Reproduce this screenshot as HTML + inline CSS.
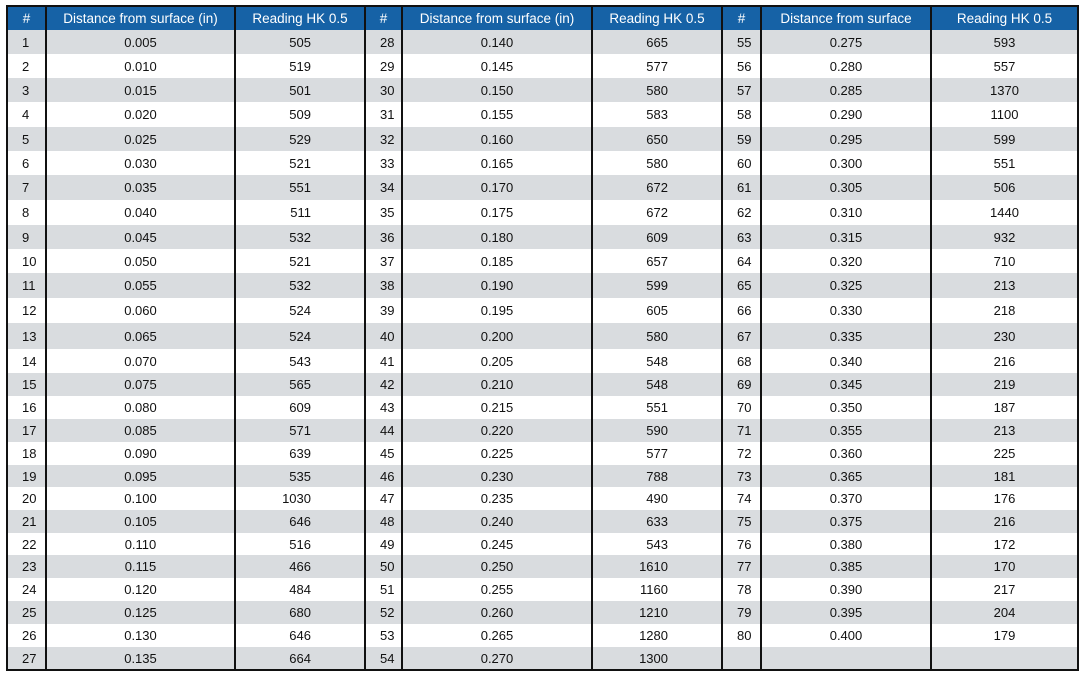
<!DOCTYPE html>
<html><head><meta charset="utf-8"><style>
body{margin:0;background:#fff;width:1084px;height:673px;overflow:hidden;font-family:"Liberation Sans",sans-serif;}
table{position:absolute;left:6px;top:5px;border-collapse:collapse;table-layout:fixed;width:1071px;border:2px solid #111;}
td,th{border-left:2px solid #111;border-right:2px solid #111;padding:0;text-align:center;font-size:13px;color:#111;overflow:hidden;white-space:nowrap;}
th{background:#1662a6;color:#fff;font-weight:normal;height:23px;font-size:13.5px;}
tr:nth-child(even) td{background:#d9dcdf;}
td:nth-child(1),td:nth-child(4),td:nth-child(7){text-align:left;padding-left:14px;}
td:nth-child(3),td:nth-child(6){text-align:right;padding-right:53px;}
td:nth-child(9){text-align:center;}
</style></head><body>
<table>
<colgroup><col style="width:39px"><col style="width:189px"><col style="width:130px"><col style="width:37px"><col style="width:190px"><col style="width:130px"><col style="width:39px"><col style="width:170px"><col style="width:147px"></colgroup>
<tr><th>#</th><th>Distance from surface (in)</th><th>Reading HK 0.5</th><th>#</th><th>Distance from surface (in)</th><th>Reading HK 0.5</th><th>#</th><th>Distance from surface</th><th>Reading HK 0.5</th></tr>
<tr style="height:24px"><td>1</td><td>0.005</td><td>505</td><td>28</td><td>0.140</td><td>665</td><td>55</td><td>0.275</td><td>593</td></tr>
<tr style="height:24px"><td>2</td><td>0.010</td><td>519</td><td>29</td><td>0.145</td><td>577</td><td>56</td><td>0.280</td><td>557</td></tr>
<tr style="height:24px"><td>3</td><td>0.015</td><td>501</td><td>30</td><td>0.150</td><td>580</td><td>57</td><td>0.285</td><td>1370</td></tr>
<tr style="height:25px"><td>4</td><td>0.020</td><td>509</td><td>31</td><td>0.155</td><td>583</td><td>58</td><td>0.290</td><td>1100</td></tr>
<tr style="height:24px"><td>5</td><td>0.025</td><td>529</td><td>32</td><td>0.160</td><td>650</td><td>59</td><td>0.295</td><td>599</td></tr>
<tr style="height:24px"><td>6</td><td>0.030</td><td>521</td><td>33</td><td>0.165</td><td>580</td><td>60</td><td>0.300</td><td>551</td></tr>
<tr style="height:25px"><td>7</td><td>0.035</td><td>551</td><td>34</td><td>0.170</td><td>672</td><td>61</td><td>0.305</td><td>506</td></tr>
<tr style="height:25px"><td>8</td><td>0.040</td><td>511</td><td>35</td><td>0.175</td><td>672</td><td>62</td><td>0.310</td><td>1440</td></tr>
<tr style="height:24px"><td>9</td><td>0.045</td><td>532</td><td>36</td><td>0.180</td><td>609</td><td>63</td><td>0.315</td><td>932</td></tr>
<tr style="height:24px"><td>10</td><td>0.050</td><td>521</td><td>37</td><td>0.185</td><td>657</td><td>64</td><td>0.320</td><td>710</td></tr>
<tr style="height:25px"><td>11</td><td>0.055</td><td>532</td><td>38</td><td>0.190</td><td>599</td><td>65</td><td>0.325</td><td>213</td></tr>
<tr style="height:25px"><td>12</td><td>0.060</td><td>524</td><td>39</td><td>0.195</td><td>605</td><td>66</td><td>0.330</td><td>218</td></tr>
<tr style="height:26px"><td>13</td><td>0.065</td><td>524</td><td>40</td><td>0.200</td><td>580</td><td>67</td><td>0.335</td><td>230</td></tr>
<tr style="height:24px"><td>14</td><td>0.070</td><td>543</td><td>41</td><td>0.205</td><td>548</td><td>68</td><td>0.340</td><td>216</td></tr>
<tr style="height:23px"><td>15</td><td>0.075</td><td>565</td><td>42</td><td>0.210</td><td>548</td><td>69</td><td>0.345</td><td>219</td></tr>
<tr style="height:23px"><td>16</td><td>0.080</td><td>609</td><td>43</td><td>0.215</td><td>551</td><td>70</td><td>0.350</td><td>187</td></tr>
<tr style="height:23px"><td>17</td><td>0.085</td><td>571</td><td>44</td><td>0.220</td><td>590</td><td>71</td><td>0.355</td><td>213</td></tr>
<tr style="height:23px"><td>18</td><td>0.090</td><td>639</td><td>45</td><td>0.225</td><td>577</td><td>72</td><td>0.360</td><td>225</td></tr>
<tr style="height:22px"><td>19</td><td>0.095</td><td>535</td><td>46</td><td>0.230</td><td>788</td><td>73</td><td>0.365</td><td>181</td></tr>
<tr style="height:23px"><td>20</td><td>0.100</td><td>1030</td><td>47</td><td>0.235</td><td>490</td><td>74</td><td>0.370</td><td>176</td></tr>
<tr style="height:23px"><td>21</td><td>0.105</td><td>646</td><td>48</td><td>0.240</td><td>633</td><td>75</td><td>0.375</td><td>216</td></tr>
<tr style="height:22px"><td>22</td><td>0.110</td><td>516</td><td>49</td><td>0.245</td><td>543</td><td>76</td><td>0.380</td><td>172</td></tr>
<tr style="height:23px"><td>23</td><td>0.115</td><td>466</td><td>50</td><td>0.250</td><td>1610</td><td>77</td><td>0.385</td><td>170</td></tr>
<tr style="height:23px"><td>24</td><td>0.120</td><td>484</td><td>51</td><td>0.255</td><td>1160</td><td>78</td><td>0.390</td><td>217</td></tr>
<tr style="height:23px"><td>25</td><td>0.125</td><td>680</td><td>52</td><td>0.260</td><td>1210</td><td>79</td><td>0.395</td><td>204</td></tr>
<tr style="height:23px"><td>26</td><td>0.130</td><td>646</td><td>53</td><td>0.265</td><td>1280</td><td>80</td><td>0.400</td><td>179</td></tr>
<tr style="height:23px"><td>27</td><td>0.135</td><td>664</td><td>54</td><td>0.270</td><td>1300</td><td></td><td></td><td></td></tr>
</table>
</body></html>
